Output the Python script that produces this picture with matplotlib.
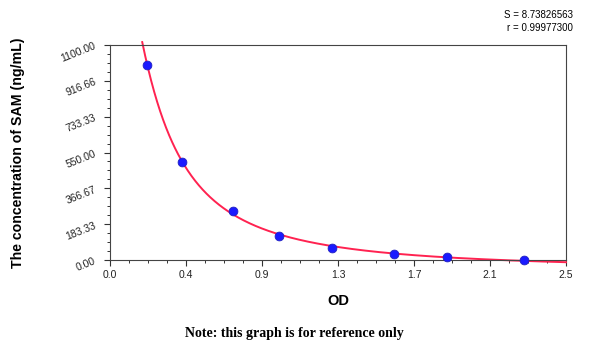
import numpy as np
import matplotlib.pyplot as plt
from matplotlib.ticker import FixedLocator, FixedFormatter, AutoMinorLocator

# standard curve: OD readings and SAM concentrations
od = [0.204, 0.395, 0.672, 0.925, 1.218, 1.556, 1.846, 2.272]
conc = [1000, 500, 250, 125, 62.5, 31.25, 15.6, 0]

xticks = [0, 2.5/6, 2*2.5/6, 3*2.5/6, 4*2.5/6, 5*2.5/6, 2.5]
xticklabels = ['0.0', '0.4', '0.9', '1.3', '1.7', '2.1', '2.5']
yticks = [0, 183.33, 366.67, 550, 733.33, 916.66, 1100]
yticklabels = ['0.00', '183.33', '366.67', '550.00', '733.33', '916.66', '1100.00']

S_text = 'S = 8.73826563'
r_text = 'r = 0.99977300'

# four parameter logistic fit: y = a*g + d*(1-g), g = 1/(1+(x/c)^b)
xs = np.array(od)
ys = np.array(conc)
best = None
for b in np.linspace(0.5, 6, 111):
    for c in np.logspace(-2, 1, 300):
        g = 1 / (1 + (xs / c) ** b)
        A = np.column_stack([g, 1 - g])
        coef, res, rk, sv = np.linalg.lstsq(A, ys, rcond=None)
        err = np.sum((A @ coef - ys) ** 2)
        if best is None or err < best[0]:
            best = (err, b, c, coef[0], coef[1])
_, b, c, a, d = best

xx = np.linspace(0.05, 2.5, 600)
yy = d + (a - d) / (1 + (xx / c) ** b)
keep = yy < 1125

plt.rcParams['font.family'] = ['Liberation Sans', 'DejaVu Sans']
fig = plt.figure(figsize=(6, 3.47), dpi=100)
ax = fig.add_axes([0.1833, 0.2507, 0.76, 0.6196])

ax.plot(xx[keep], yy[keep], color='#ff2250', lw=1.4, clip_on=False, zorder=2)
ax.scatter(od, conc, s=40, color='#1a1aff', edgecolors='#2020c0', linewidths=0.6,
           zorder=3, clip_on=False)

ax.set_xlim(0, 2.5)
ax.set_ylim(0, 1100)
ax.xaxis.set_major_locator(FixedLocator(xticks))
ax.xaxis.set_major_formatter(FixedFormatter(xticklabels))
ax.yaxis.set_major_locator(FixedLocator(yticks))
ax.yaxis.set_major_formatter(FixedFormatter(yticklabels))
ax.xaxis.set_minor_locator(AutoMinorLocator(4))
ax.yaxis.set_minor_locator(AutoMinorLocator(4))
ax.tick_params(which='major', direction='out', length=4, width=0.8, colors='#333333',
               labelsize=7.5, labelcolor='#222222')
ax.tick_params(axis='y', which='major', pad=5)
ax.tick_params(which='minor', direction='out', length=2.5, width=0.7, colors='#333333')
for lab in ax.get_yticklabels():
    lab.set_rotation(22)
for sp in ax.spines.values():
    sp.set_color('#444444')
    sp.set_linewidth(0.8)

ax.set_xlabel('OD', fontsize=10.5, fontweight='bold', labelpad=10)
ax.set_ylabel('The concentration of SAM (ng/mL)', fontsize=10.2, fontweight='bold')
ax.yaxis.set_label_coords(-0.186, 0.5)

fig.text(0.955, 0.958, S_text, ha='right', va='center', fontsize=7)
fig.text(0.955, 0.918, r_text, ha='right', va='center', fontsize=7)
fig.text(0.49, 0.04, 'Note: this graph is for reference only', ha='center', va='center',
         fontsize=10, fontweight='bold', family=['Liberation Serif', 'DejaVu Serif'])

fig.savefig('out.png', dpi=100)
